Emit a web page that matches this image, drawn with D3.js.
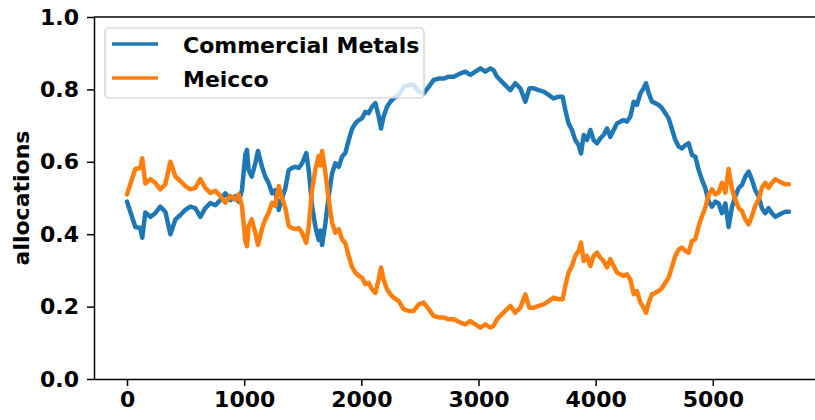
<!DOCTYPE html>
<html lang="en">
<head>
<meta charset="utf-8">
<title>allocations</title>
<script src="https://cdn.jsdelivr.net/npm/d3@7"></script>
<style>
  body { margin: 0; background: #fff; }
  svg text { font-family: "DejaVu Sans", sans-serif; font-weight: bold; }
</style>
</head>
<body>
<svg></svg>
<script>
var steps = [
  0, 28, 71, 113, 130, 156, 199, 241, 284, 327,
  370, 412, 455, 498, 540, 583, 626, 668, 711, 754,
  796, 839, 882, 925, 953, 981, 1010, 1024, 1038, 1064,
  1095, 1118, 1152, 1180, 1209, 1238, 1266, 1295, 1323, 1351,
  1380, 1409, 1437, 1466, 1494, 1530, 1551, 1580, 1608, 1636,
  1650, 1665, 1693, 1721, 1750, 1778, 1807, 1835, 1864, 1892,
  1920, 1949, 1977, 2005, 2034, 2062, 2091, 2120, 2148, 2168,
  2190, 2219, 2248, 2276, 2319, 2361, 2404, 2447, 2490, 2532,
  2575, 2617, 2660, 2703, 2745, 2788, 2845, 2888, 2930, 2973,
  3016, 3058, 3101, 3129, 3158, 3201, 3243, 3272, 3314, 3357,
  3400, 3434, 3471, 3513, 3556, 3599, 3641, 3684, 3718, 3741,
  3769, 3798, 3826, 3855, 3875, 3898, 3926, 3955, 3983, 4012,
  4040, 4068, 4097, 4125, 4154, 4182, 4211, 4239, 4268, 4296,
  4325, 4353, 4382, 4410, 4430, 4453, 4481, 4510, 4538, 4567,
  4595, 4623, 4652, 4680, 4709, 4737, 4766, 4794, 4822, 4851,
  4880, 4908, 4936, 4965, 4993, 5022, 5050, 5078, 5107, 5135,
  5164, 5192, 5220, 5249, 5277, 5306, 5334, 5362, 5391, 5419,
  5448, 5476, 5505, 5533, 5562, 5590, 5618, 5650
];

var commercialMetals = [
  .49, .462, .42, .417, .39, .46, .448, .458, .476, .462,
  .40, .44, .453, .467, .476, .472, .448, .472, .486, .48,
  .494, .513, .494, .505, .49, .522, .62, .633, .577, .559,
  .596, .63, .586, .559, .541, .513, .522, .467, .50, .527,
  .577, .583, .586, .583, .596, .624, .577, .476, .42, .384,
  .41, .37, .43, .504, .568, .596, .586, .614, .625, .66,
  .69, .706, .715, .72, .738, .734, .752, .762, .725, .692,
  .725, .752, .766, .775, .785, .807, .812, .812, .794, .789,
  .807, .826, .83, .83, .835, .835, .844, .849, .84, .849,
  .858, .849, .858, .853, .835, .821, .807, .798, .817, .803,
  .766, .803, .803, .798, .794, .785, .775, .78, .78, .743,
  .706, .688, .66, .646, .623, .674, .66, .688, .66, .651,
  .665, .674, .692, .669, .688, .706, .711, .715, .711, .725,
  .766, .757, .789, .803, .817, .789, .766, .762, .757, .748,
  .734, .72, .69, .66, .642, .637, .646, .651, .619, .614,
  .577, .55, .527, .49, .476, .49, .485, .458, .485, .42,
  .476, .504, .527, .536, .559, .573, .55, .522, .504, .472,
  .458, .472, .458, .448, .453, .458, .462, .462
];

var meicco = [
  .51, .538, .58, .583, .61, .54, .552, .542, .524, .538,
  .60, .56, .547, .533, .524, .528, .552, .528, .514, .52,
  .506, .487, .506, .495, .51, .478, .38, .367, .423, .441,
  .404, .37, .414, .441, .459, .487, .478, .533, .50, .473,
  .423, .417, .414, .417, .404, .376, .423, .524, .58, .616,
  .59, .63, .57, .496, .432, .404, .414, .386, .375, .34,
  .31, .294, .285, .28, .262, .266, .248, .238, .275, .308,
  .275, .248, .234, .225, .215, .193, .188, .188, .206, .211,
  .193, .174, .17, .17, .165, .165, .156, .151, .16, .151,
  .142, .151, .142, .147, .165, .179, .193, .202, .183, .197,
  .234, .197, .197, .202, .206, .215, .225, .22, .22, .257,
  .294, .312, .34, .354, .377, .326, .34, .312, .34, .349,
  .335, .326, .308, .331, .312, .294, .289, .285, .289, .275,
  .234, .243, .211, .197, .183, .211, .234, .238, .243, .252,
  .266, .28, .31, .34, .358, .363, .354, .349, .381, .386,
  .423, .45, .473, .51, .524, .51, .515, .542, .515, .58,
  .524, .496, .473, .464, .441, .427, .45, .478, .496, .528,
  .542, .528, .542, .552, .547, .542, .538, .538
];

var seriesNames = ["Commercial Metals", "Meicco"];
var seriesColors = ["#1f77b4", "#ff7f0e"];
var xTicks = [0, 1000, 2000, 3000, 4000, 5000];
var yTicks = [0.0, 0.2, 0.4, 0.6, 0.8, 1.0];

var width = 815, height = 420;
var plotLeft = 94, plotRight = 822, plotTop = 17, plotBottom = 379;

var svg = d3.select("svg").attr("width", width).attr("height", height);

var x = d3.scaleLinear().domain([-282, 5932]).range([plotLeft, plotRight]);
var y = d3.scaleLinear().domain([0, 1]).range([plotBottom, plotTop]);

// lines, blue first so orange sits on top
var line = d3.line()
  .x(function(d) { return x(d[0]); })
  .y(function(d) { return y(d[1]); });

[commercialMetals, meicco].forEach(function(vals, i) {
  var pts = steps.map(function(s, j) { return [s, vals[j]]; });
  svg.append("path")
    .attr("d", line(pts))
    .attr("fill", "none")
    .attr("stroke", seriesColors[i])
    .attr("stroke-width", 4.5)
    .attr("stroke-linejoin", "round")
    .attr("stroke-linecap", "round");
});

// axes
var xAxis = svg.append("g")
  .attr("transform", "translate(0," + plotBottom + ")")
  .call(d3.axisBottom(x).tickValues(xTicks).tickFormat(d3.format("d")).tickSizeInner(7).tickSizeOuter(0).tickPadding(5));
var yAxis = svg.append("g")
  .attr("transform", "translate(" + plotLeft + ",0)")
  .call(d3.axisLeft(y).tickValues(yTicks).tickFormat(d3.format(".1f")).tickSizeInner(7).tickSizeOuter(0).tickPadding(8));

[xAxis, yAxis].forEach(function(g) {
  g.select(".domain").attr("stroke", "#000").attr("stroke-width", 1.5);
  g.selectAll(".tick line").attr("stroke", "#000").attr("stroke-width", 1.5);
  g.selectAll(".tick text").attr("fill", "#000").style("font-size", "22px").style("font-family", "DejaVu Sans").style("font-weight", "bold");
});

// top spine
svg.append("line")
  .attr("x1", plotLeft).attr("x2", width)
  .attr("y1", plotTop).attr("y2", plotTop)
  .attr("stroke", "#000").attr("stroke-width", 1.5);

// y label
svg.append("text")
  .attr("transform", "translate(29," + ((plotTop + plotBottom) / 2) + ") rotate(-90)")
  .attr("text-anchor", "middle")
  .style("font-size", "22px")
  .text("allocations");

// legend
var legend = svg.append("g");
legend.append("rect")
  .attr("x", 105).attr("y", 28)
  .attr("width", 319).attr("height", 70)
  .attr("rx", 4)
  .attr("fill", "#fff").attr("fill-opacity", 0.8)
  .attr("stroke", "#cccccc").attr("stroke-width", 1.2);

seriesNames.forEach(function(name, i) {
  var ly = 44 + i * 34;
  legend.append("line")
    .attr("x1", 112).attr("x2", 158)
    .attr("y1", ly).attr("y2", ly)
    .attr("stroke", seriesColors[i]).attr("stroke-width", 3.5);
  legend.append("text")
    .attr("x", 183).attr("y", ly + 9)
    .style("font-size", "22px")
    .text(name);
});
</script>
</body>
</html>
